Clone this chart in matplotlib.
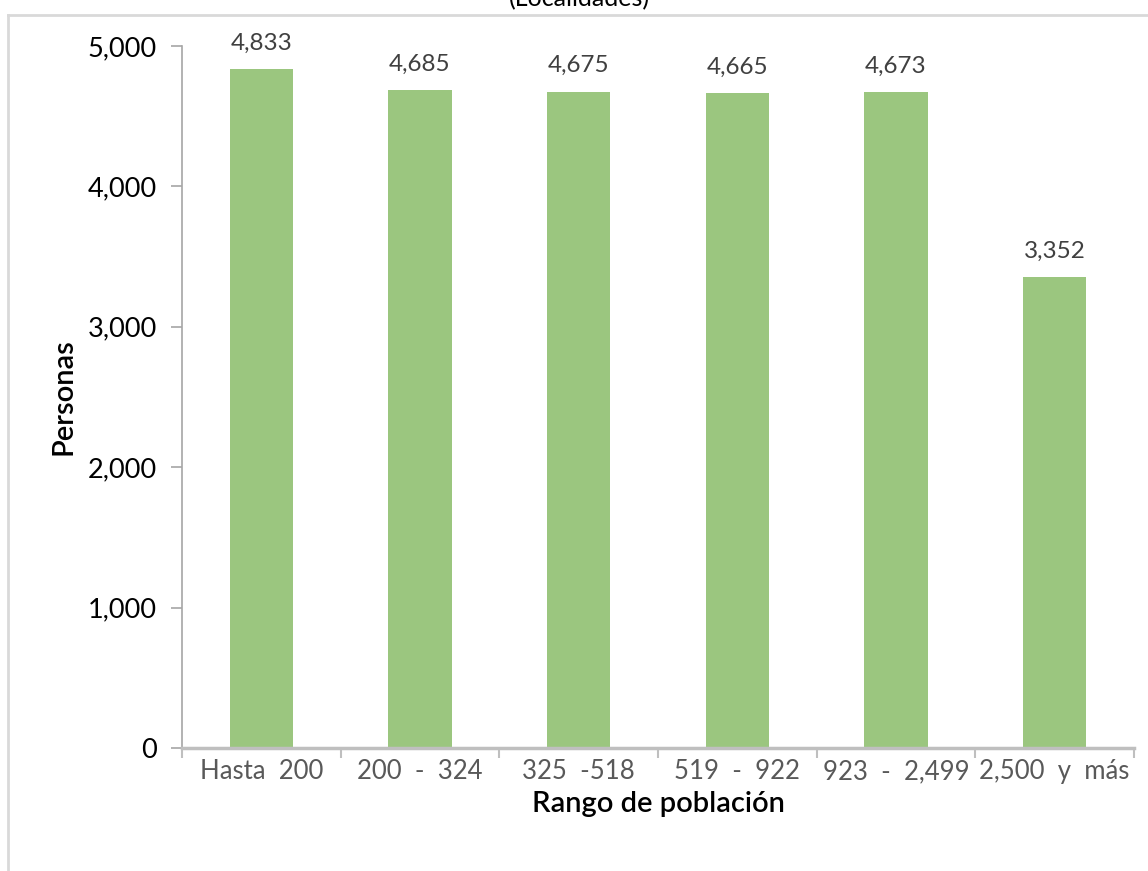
import matplotlib.pyplot as plt
from matplotlib.lines import Line2D

plt.rcParams['font.family'] = ['Lato', 'DejaVu Sans']

# Personas por rango de población (localidades)
rangos = ['Hasta  200', '200  -  324', '325  -518', '519  -  922', '923  -  2,499', '2,500  y  más']
personas = [4833, 4685, 4675, 4665, 4673, 3352]

fig = plt.figure(figsize=(11.48, 8.71), dpi=100)
ax = fig.add_axes([0.1585, 0.1412, 0.8293, 0.806])

x = range(len(rangos))
ax.bar(x, personas, width=0.4, color='#9bc67f', zorder=2)

for xi, v in zip(x, personas):
    ax.annotate(f'{v:,}', (xi, v), xytext=(0, 11), textcoords='offset points',
                ha='center', va='bottom', fontsize=17.5, color='#404040')

ax.set_xlim(-0.5, len(rangos) - 0.5)
ax.set_ylim(0, 5000)
ax.set_yticks(range(0, 5001, 1000))
ax.set_yticklabels([f'{t:,}' for t in range(0, 5001, 1000)], fontsize=19.5, color='black')

# etiquetas centradas, marcas entre categorías
ax.set_xticks(list(x))
ax.set_xticklabels(rangos, fontsize=18.5, color='#595959')
ax.set_xticks([i - 0.5 for i in range(len(rangos) + 1)], minor=True)
ax.tick_params(axis='x', which='major', length=0, pad=8)
ax.tick_params(axis='x', which='minor', length=7, width=1.5, color='#bfbfbf', direction='out')
ax.tick_params(axis='y', length=8, width=1.2, color='#a6a6a6', pad=10)

for s in ['top', 'right']:
    ax.spines[s].set_visible(False)
ax.spines['bottom'].set_color('#bfbfbf')
ax.spines['bottom'].set_linewidth(2.5)
ax.spines['left'].set_color('#a6a6a6')
ax.spines['left'].set_linewidth(1.2)

ax.set_xlabel('Rango de población', fontsize=21, fontweight='semibold', labelpad=5)
ax.set_ylabel('Personas', fontsize=21, fontweight='semibold', labelpad=8)

# título parcialmente fuera del lienzo
fig.text(0.505, 1 - 6 / 871, '(Localidades)', ha='center', va='baseline', fontsize=18)

# marco del gráfico
fig.add_artist(Line2D([8 / 1148, 1], [1 - 15 / 871, 1 - 15 / 871], color='#d9d9d9', lw=2))
fig.add_artist(Line2D([8 / 1148, 8 / 1148], [0, 1 - 15 / 871], color='#d9d9d9', lw=2))

fig.savefig('out.png', dpi=100)
